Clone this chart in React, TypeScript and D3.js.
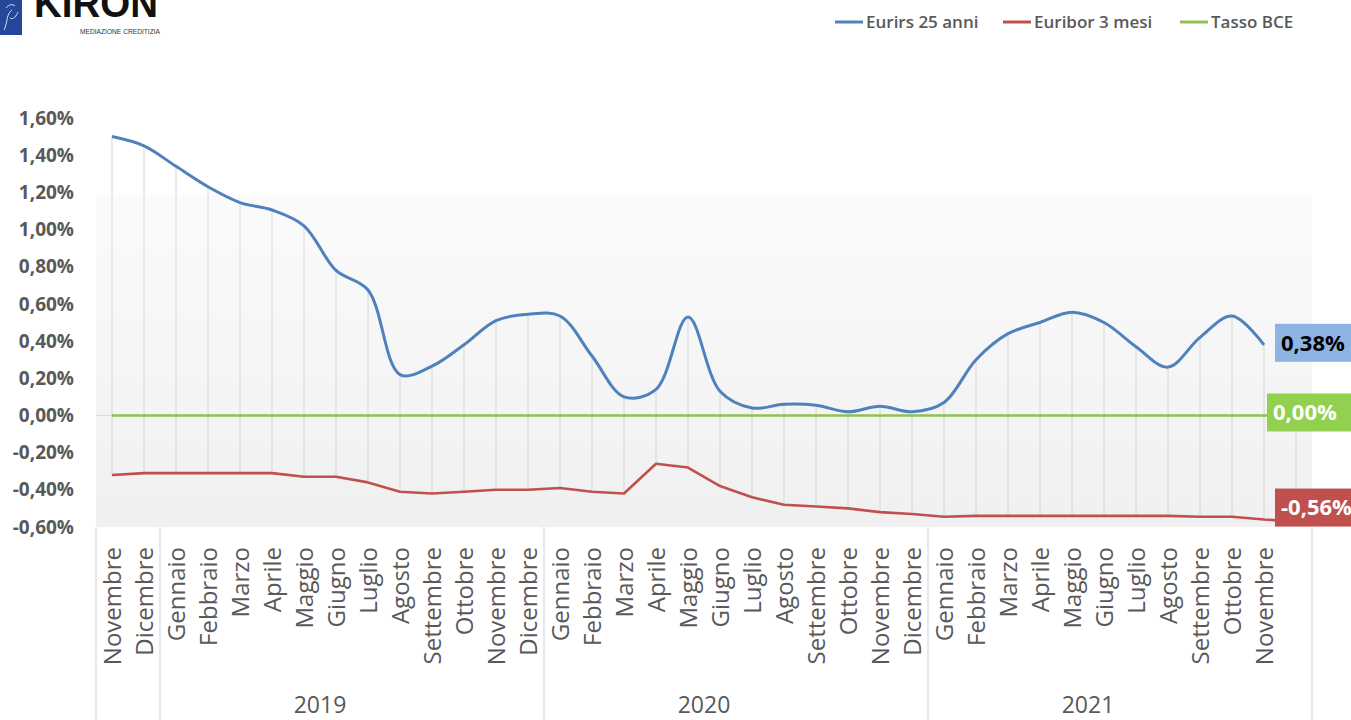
import { useMemo } from 'react';
import * as d3 from 'd3';

// categories: Nov 2018 .. Dic 2021 (last one has no label)
const months = [
  'Novembre', 'Dicembre',
  'Gennaio', 'Febbraio', 'Marzo', 'Aprile', 'Maggio', 'Giugno', 'Luglio', 'Agosto', 'Settembre', 'Ottobre', 'Novembre', 'Dicembre',
  'Gennaio', 'Febbraio', 'Marzo', 'Aprile', 'Maggio', 'Giugno', 'Luglio', 'Agosto', 'Settembre', 'Ottobre', 'Novembre', 'Dicembre',
  'Gennaio', 'Febbraio', 'Marzo', 'Aprile', 'Maggio', 'Giugno', 'Luglio', 'Agosto', 'Settembre', 'Ottobre', 'Novembre', '',
];

const years = [
  { label: '', start: 0, end: 1 },
  { label: '2019', start: 2, end: 13 },
  { label: '2020', start: 14, end: 25 },
  { label: '2021', start: 26, end: 37 },
];

const eurirs = [
  1.50, 1.45, 1.34, 1.23, 1.145, 1.105, 1.02, 0.78, 0.675, 0.22, 0.265, 0.38, 0.51,
  0.545, 0.535, 0.32, 0.10, 0.14, 0.53, 0.13, 0.04, 0.06, 0.055, 0.02, 0.05, 0.02,
  0.07, 0.30, 0.44, 0.50, 0.555, 0.50, 0.37, 0.26, 0.42, 0.535, 0.38,
];

const euribor = [
  -0.32, -0.31, -0.31, -0.31, -0.31, -0.31, -0.33, -0.33, -0.36, -0.41, -0.42, -0.41, -0.40,
  -0.40, -0.39, -0.41, -0.42, -0.26, -0.28, -0.38, -0.44, -0.48, -0.49, -0.50, -0.52, -0.53,
  -0.545, -0.54, -0.54, -0.54, -0.54, -0.54, -0.54, -0.54, -0.545, -0.545, -0.56, -0.57,
];

const bce = months.map(() => 0);

const lastLabels = [0.38, -0.56, 0];

const yTicks = [1.6, 1.4, 1.2, 1.0, 0.8, 0.6, 0.4, 0.2, 0, -0.2, -0.4, -0.6];

const series = [
  { name: 'Eurirs 25 anni', color: '#4F81BD', values: eurirs, smooth: true, box: '#8DB4E2', text: '#000', dy: -2, bx: 1275 },
  { name: 'Euribor 3 mesi', color: '#C0504D', values: euribor, smooth: false, box: '#C0504D', text: '#fff', dy: -12, bx: 1275 },
  { name: 'Tasso BCE', color: '#92C050', values: bce, smooth: false, box: '#92D050', text: '#fff', dy: -3, bx: 1267 },
];

const it = d3.formatLocale({ decimal: ',', thousands: '.', grouping: [3], currency: ['€', ''], minus: '-' });
const fmt = (v: number) => it.format('.2f')(v) + '%';

const W = 1351, H = 720;
const font = "'Open Sans', 'Noto Sans', sans-serif";
const grey = '#595959';

export default function App() {
  const x = d3.scaleBand<number>().domain(d3.range(months.length)).range([96, 1312]);
  const y = d3.scaleLinear().domain([-0.6, 1.6]).range([527, 118]);
  const cx = (i: number) => (x(i) ?? 0) + x.bandwidth() / 2;

  const paths = useMemo(
    () =>
      series.map((s) => {
        const line = d3
          .line<number>()
          .x((_, i) => cx(i))
          .y((d) => y(d))
          .curve(s.smooth ? d3.curveCatmullRom.alpha(0.5) : d3.curveLinear);
        return line(s.values) || '';
      }),
    []
  );

  // high-low lines
  const hiLo = months.map((_, i) => {
    const vals = series.map((s) => s.values[i]).filter((v) => v !== undefined);
    return { i, hi: d3.max(vals) as number, lo: d3.min(vals) as number };
  });

  const legendX = [835, 1003, 1180];

  return (
    <svg width={W} height={H} style={{ position: 'absolute', left: 0, top: 0, background: '#fff' }} fontFamily={font}>
      <defs>
        <linearGradient id="plotBg" x1="0" y1="0" x2="0" y2="1">
          <stop offset="0" stopColor="#ffffff" />
          <stop offset="0.18" stopColor="#ffffff" />
          <stop offset="0.19" stopColor="#fbfbfb" />
          <stop offset="1" stopColor="#f0f0f0" />
        </linearGradient>
      </defs>

      {/* logo */}
      <g>
        <rect x={0} y={0} width={22} height={35} fill="#24479a" />
        <path d="M4,30 C8,22 6,14 12,10 M10,18 C14,20 16,16 18,12 M6,8 C9,4 13,4 15,6" stroke="#fff" strokeWidth={1} fill="none" opacity={0.8} />
        <text x={34} y={17} fontFamily="'Liberation Sans', Arial, sans-serif" fontWeight={700} fontSize={40} textLength={124} lengthAdjust="spacingAndGlyphs" fill="#111">KIRON</text>
        <text x={80} y={34} fontFamily="'Liberation Sans', Arial, sans-serif" fontSize={6.5} textLength={80} lengthAdjust="spacingAndGlyphs" fill="#333">MEDIAZIONE CREDITIZIA</text>
      </g>

      {/* legend */}
      {series.map((s, k) => (
        <g key={s.name} transform={`translate(${legendX[k]},22)`}>
          <line x1={0} x2={28} y1={0} y2={0} stroke={s.color} strokeWidth={3} />
          <text x={31} y={6} fontSize={17} fontWeight={600} fill={grey}>{s.name}</text>
        </g>
      ))}

      {/* plot area */}
      <rect x={96} y={y(1.6)} width={1312 - 96} height={y(-0.6) - y(1.6)} fill="url(#plotBg)" />
      <line x1={96} x2={1312} y1={y(0)} y2={y(0)} stroke="#d9d9d9" strokeWidth={1} />

      {/* y axis labels */}
      {yTicks.map((t) => (
        <text key={t} x={74} y={y(t)} dy="0.35em" textAnchor="end" fontSize={19} fontWeight={700} fill={grey}>
          {fmt(t)}
        </text>
      ))}

      {/* high-low lines */}
      {hiLo.map((d) => (
        <line key={d.i} x1={cx(d.i)} x2={cx(d.i)} y1={y(d.hi)} y2={y(d.lo)} stroke="#d6d6d6" strokeWidth={1} />
      ))}

      {/* series */}
      {series.map((s, k) => (
        <path key={s.name} d={paths[k]} fill="none" stroke={s.color} strokeWidth={s.smooth ? 3 : 2.6} strokeLinejoin="round" />
      ))}

      {/* last value labels */}
      {series.map((s, k) => {
        const last = lastLabels[k];
        const yc = y(last) + s.dy;
        return (
          <g key={s.name + 'lbl'}>
            <rect x={s.bx} y={yc - 19} width={W - s.bx + 2} height={38} fill={s.box} />
            <text x={s.bx + 6} y={yc} dy="0.36em" fontSize={22} fontWeight={700} fill={s.text}>{fmt(last)}</text>
          </g>
        );
      })}

      {/* category axis */}
      {years.map((g) => (
        <line key={'sep' + g.start} x1={x(g.start)} x2={x(g.start)} y1={527} y2={H} stroke="#d9d9d9" strokeWidth={1.2} />
      ))}
      <line x1={1312} x2={1312} y1={527} y2={H} stroke="#d9d9d9" strokeWidth={1.2} />
      {months.map((m, i) => (
        <text key={i} transform={`translate(${cx(i)},547) rotate(-90)`} dy="0.36em" textAnchor="end" fontSize={24} fill={grey}>
          {m}
        </text>
      ))}
      {years.map((g) => (
        <text key={'yr' + g.start} x={(cx(g.start) + cx(g.end)) / 2 - x.step()} y={713} textAnchor="middle" fontSize={23} fill={grey}>
          {g.label}
        </text>
      ))}
    </svg>
  );
}
